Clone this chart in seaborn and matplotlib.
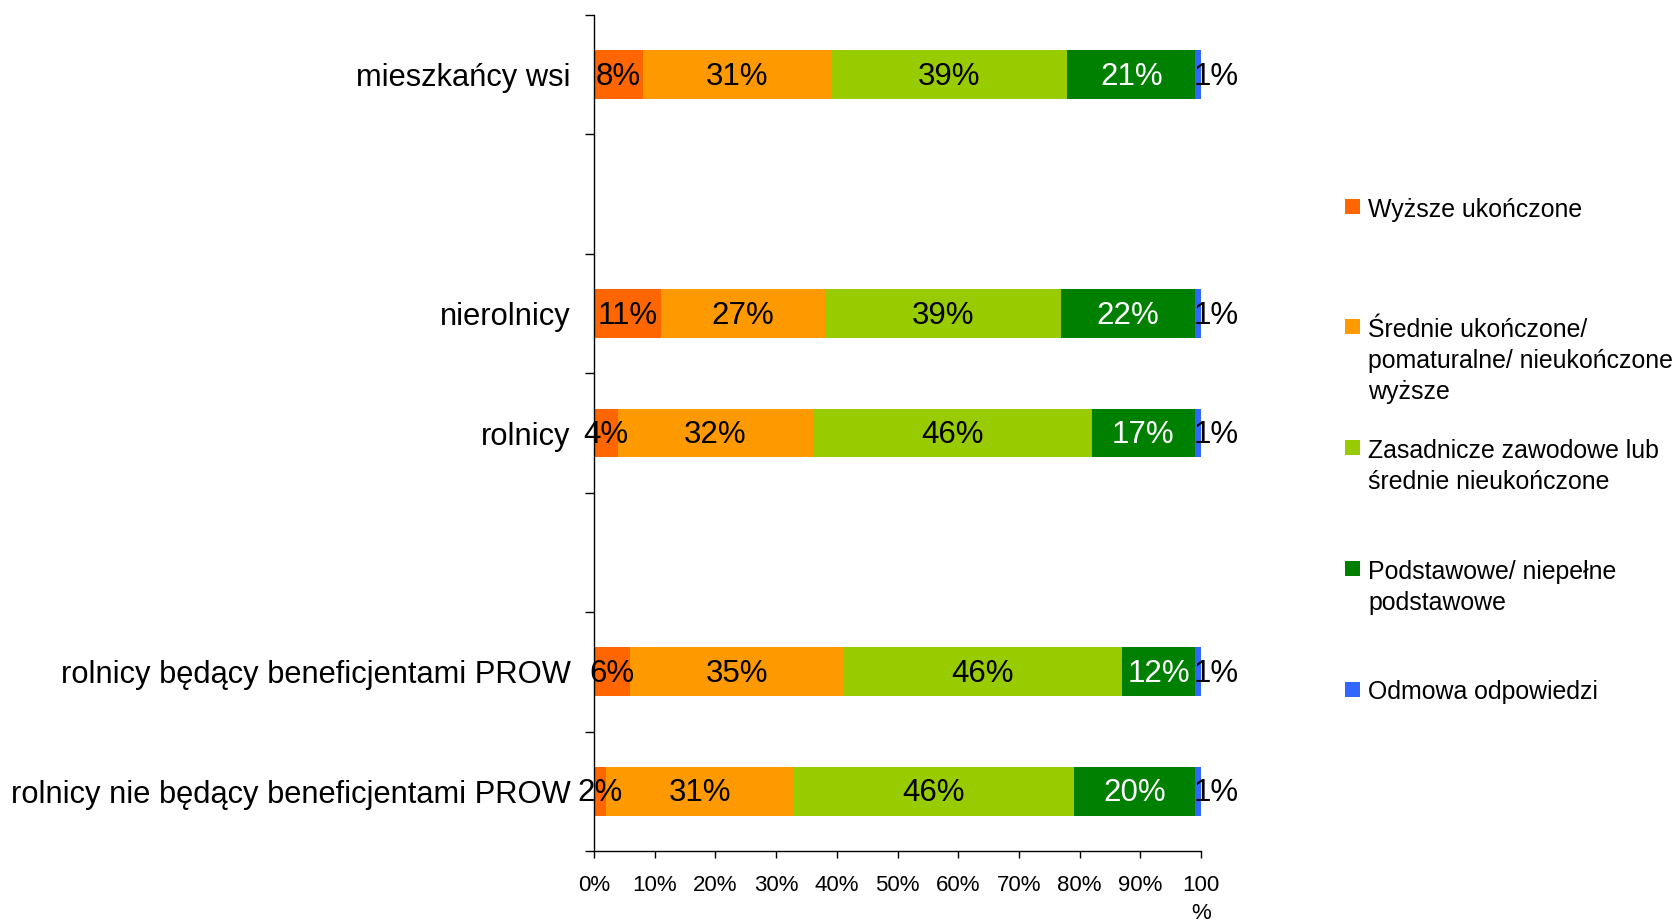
import numpy as np
import pandas as pd
import matplotlib
matplotlib.use("Agg")
import matplotlib.pyplot as plt
from matplotlib.patches import Rectangle
import seaborn as sns

# Data
categories = ["mieszkańcy wsi", " ", "nierolnicy", "rolnicy", "  ",
              "rolnicy będący beneficjentami PROW",
              "rolnicy nie będący beneficjentami PROW"]
rows = ["mieszkańcy wsi", "nierolnicy", "rolnicy",
        "rolnicy będący beneficjentami PROW",
        "rolnicy nie będący beneficjentami PROW"]
series = ["Wyższe ukończone",
          "Średnie ukończone/\npomaturalne/ nieukończone\nwyższe",
          "Zasadnicze zawodowe lub\nśrednie nieukończone",
          "Podstawowe/ niepełne\npodstawowe",
          "Odmowa odpowiedzi"]
wyzsze = [8, 11, 4, 6, 2]
srednie = [31, 27, 32, 35, 31]
zasadnicze = [39, 39, 46, 46, 46]
podstawowe = [21, 22, 17, 12, 20]
odmowa = [1, 1, 1, 1, 1]
x_ticks = [0, 10, 20, 30, 40, 50, 60, 70, 80, 90, 100]
x_labels = ["0%", "10%", "20%", "30%", "40%", "50%", "60%", "70%", "80%", "90%", "100\n%"]

colors = ["#FF6600", "#FF9900", "#99CC00", "#008000", "#3366FF"]
label_colors = ["black", "black", "black", "white", "black"]
# small last segment: its label sits just right of the bar end
label_shift = [0, 0, 0, 0, 13]

sns.set_theme(style="ticks")
plt.rcParams["font.family"] = ["Liberation Sans", "DejaVu Sans"]

cols = ["s0", "s1", "s2", "s3", "s4"]
df = pd.DataFrame({"kategoria": rows, "s0": wyzsze, "s1": srednie,
                   "s2": zasadnicze, "s3": podstawowe, "s4": odmowa})
cum = df[cols].cumsum(axis=1)
cum["kategoria"] = df["kategoria"]

fig = plt.figure(figsize=(16.79, 9.21), dpi=100)
ax = fig.add_axes([0.3538, 0.076, 0.3615, 0.9077])

# stacked bars: draw cumulative totals from the longest down
for i in reversed(range(len(cols))):
    sns.barplot(data=cum, x=cols[i], y="kategoria", order=categories,
                color=colors[i], saturation=1, width=0.41, orient="h",
                errorbar=None, linewidth=0, ax=ax)

# segment labels
for r, row in enumerate(rows):
    pos = categories.index(row)
    for i, c in enumerate(cols):
        v = df.loc[r, c]
        center = cum.loc[r, c] - v / 2
        ax.annotate(f"{v}%", xy=(center, pos), xytext=(label_shift[i], -1.5),
                    textcoords="offset points", ha="center", va="center",
                    fontsize=22.5, color=label_colors[i])

ax.set_xlim(0, 100)
ax.set_ylim(6.5, -0.5)
ax.set_xticks(x_ticks)
ax.set_xticklabels(x_labels, fontsize=16, color="black")
for t in ax.get_xticklabels():
    t.set_linespacing(1.45)
ax.set_yticks(range(len(categories)))
ax.set_yticklabels(categories, fontsize=22.2, color="black")
ax.set_yticks(np.arange(-0.5, len(categories), 1), minor=True)
ax.tick_params(axis="y", which="major", length=0, pad=17)
ax.tick_params(axis="y", which="minor", length=6.5, width=1, color="black", direction="out")
ax.tick_params(axis="x", length=5, width=1, color="black", direction="out", pad=12)
ax.set_xlabel("")
ax.set_ylabel("")
sns.despine(ax=ax)
for s in ["left", "bottom"]:
    ax.spines[s].set_color("black")
    ax.spines[s].set_linewidth(1)

# legend
legend_y = [207, 327, 448, 569, 689]
W, H = 1679, 921
for i, (lab, yc) in enumerate(zip(series, legend_y)):
    fig.add_artist(Rectangle((1345 / W, 1 - (yc + 7.5) / H), 15 / W, 15 / H,
                             transform=fig.transFigure, color=colors[i], lw=0))
    fig.text(1368 / W, 1 - (yc - 9) / H, lab, ha="left", va="top",
             fontsize=17.9, color="black", linespacing=1.36)

plt.savefig("out.png", dpi=100)
plt.close()
